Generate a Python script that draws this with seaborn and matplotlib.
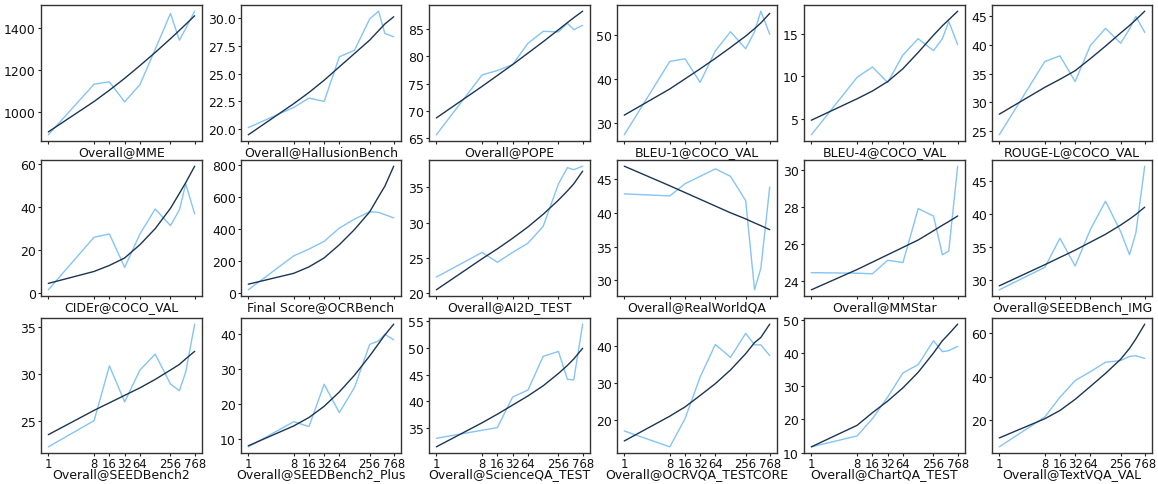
import matplotlib
matplotlib.use("Agg")
import matplotlib.pyplot as plt
import matplotlib.ticker as mticker
import seaborn as sns
import pandas as pd

# ---------------- data ----------------
steps = [1, 8, 16, 32, 64, 128, 256, 384, 512, 768]
xtick_values = [1, 8, 16, 32, 64, 256, 768]
xtick_labels = ["1", "8", "16", "32", "64", "256", "768"]

titles = [
    "Overall@MME", "Overall@HallusionBench", "Overall@POPE",
    "BLEU-1@COCO_VAL", "BLEU-4@COCO_VAL", "ROUGE-L@COCO_VAL",
    "CIDEr@COCO_VAL", "Final Score@OCRBench", "Overall@AI2D_TEST",
    "Overall@RealWorldQA", "Overall@MMStar", "Overall@SEEDBench_IMG",
    "Overall@SEEDBench2", "Overall@SEEDBench2_Plus", "Overall@ScienceQA_TEST",
    "Overall@OCRVQA_TESTCORE", "Overall@ChartQA_TEST", "Overall@TextVQA_VAL",
]

mme_obs = [890, 1133, 1144, 1048, 1131, 1300, 1472, 1344, 1400, 1483]
mme_fit = [904, 1050, 1104, 1161, 1222, 1285, 1351, 1391, 1420, 1461]
hallu_obs = [20.15, 21.96, 22.8, 22.5, 26.5, 27.1, 29.9, 30.6, 28.6, 28.3]
hallu_fit = [19.5, 22.3, 23.3, 24.4, 25.6, 26.8, 28.0, 28.85, 29.45, 30.1]
pope_obs = [65.6, 76.6, 77.4, 78.5, 82.4, 84.6, 84.5, 86.1, 84.9, 85.7]
pope_fit = [68.7, 74.5, 76.5, 78.5, 80.6, 82.7, 84.9, 86.2, 87.1, 88.3]
bleu1_obs = [27.2, 44.0, 44.6, 39.2, 46.4, 50.8, 46.9, 50.8, 55.5, 50.2]
bleu1_fit = [31.7, 37.7, 40.0, 42.3, 44.7, 47.2, 49.8, 51.5, 52.8, 55.0]
bleu4_obs = [3.2, 9.9, 11.1, 9.3, 12.5, 14.4, 13.0, 14.4, 16.4, 13.7]
bleu4_fit = [4.9, 7.4, 8.3, 9.4, 10.9, 12.8, 14.8, 15.9, 16.6, 17.6]
rouge_obs = [24.3, 37.1, 38.1, 33.6, 39.9, 42.9, 40.3, 42.8, 45.0, 42.2]
rouge_fit = [27.9, 32.6, 34.0, 35.5, 37.6, 39.8, 42.1, 43.4, 44.4, 45.9]
cider_obs = [1.4, 26.0, 27.5, 11.9, 27.5, 39.2, 31.4, 38.8, 50.9, 36.9]
cider_fit = [4.4, 10.0, 12.8, 16.3, 22.5, 30.0, 39.5, 46.5, 51.5, 59.2]
ocrb_obs = [19, 231, 273, 321, 404, 460, 506, 502, 488, 467]
ocrb_fit = [54, 122, 162, 218, 300, 395, 505, 600, 665, 790]
ai2d_obs = [22.3, 25.8, 24.4, 25.8, 27.1, 29.5, 35.5, 37.8, 37.5, 38.0]
ai2d_fit = [20.5, 24.9, 26.3, 27.8, 29.4, 31.2, 33.2, 34.5, 35.5, 37.3]
rwqa_obs = [42.8, 42.5, 44.3, 45.4, 46.5, 45.4, 41.8, 28.6, 31.8, 43.8]
rwqa_fit = [46.9, 44.0, 43.0, 42.0, 41.0, 40.0, 39.1, 38.5, 38.1, 37.5]
mmstar_obs = [24.43, 24.4, 24.37, 25.1, 24.98, 27.9, 27.5, 25.4, 25.6, 30.2]
mmstar_fit = [23.5, 24.6, 25.0, 25.4, 25.8, 26.2, 26.7, 27.0, 27.2, 27.5]
seedimg_obs = [28.5, 31.9, 36.3, 32.1, 37.6, 41.9, 37.3, 33.8, 37.1, 47.2]
seedimg_fit = [29.1, 32.3, 33.4, 34.5, 35.7, 36.9, 38.3, 39.2, 39.9, 41.0]
seed2_obs = [22.2, 25.0, 30.85, 27.0, 30.4, 32.1, 28.9, 28.2, 30.2, 35.3]
seed2_fit = [23.5, 26.1, 26.9, 27.7, 28.5, 29.4, 30.4, 31.0, 31.6, 32.4]
seed2p_obs = [7.8, 15.0, 13.6, 25.7, 17.6, 24.8, 37.1, 38.1, 40.0, 38.4]
seed2p_fit = [8.1, 13.8, 16.2, 19.4, 23.5, 28.3, 33.8, 37.3, 39.8, 42.9]
sqa_obs = [33.1, 34.6, 35.1, 40.8, 42.1, 48.4, 49.3, 44.1, 44.0, 54.4]
sqa_fit = [31.5, 36.0, 37.6, 39.3, 41.0, 42.9, 45.2, 46.7, 47.9, 49.9]
ocrvqa_obs = [17.1, 12.8, 20.4, 31.7, 40.5, 37.0, 43.5, 40.4, 40.4, 37.5]
ocrvqa_fit = [14.4, 21.1, 23.6, 26.7, 29.9, 33.6, 38.0, 41.0, 42.4, 46.0]
chart_obs = [11.7, 15.0, 20.2, 26.7, 34.0, 36.5, 43.7, 40.4, 40.7, 42.0]
chart_fit = [11.7, 18.2, 22.0, 25.5, 29.5, 34.2, 40.0, 43.7, 45.7, 48.7]
textvqa_obs = [7.8, 21.5, 30.6, 38.2, 42.3, 46.6, 47.4, 49.3, 49.6, 48.4]
textvqa_fit = [11.9, 20.7, 24.5, 29.6, 35.5, 41.5, 48.0, 53.0, 57.3, 64.1]

observed = [mme_obs, hallu_obs, pope_obs, bleu1_obs, bleu4_obs, rouge_obs,
            cider_obs, ocrb_obs, ai2d_obs, rwqa_obs, mmstar_obs, seedimg_obs,
            seed2_obs, seed2p_obs, sqa_obs, ocrvqa_obs, chart_obs, textvqa_obs]
fitted = [mme_fit, hallu_fit, pope_fit, bleu1_fit, bleu4_fit, rouge_fit,
          cider_fit, ocrb_fit, ai2d_fit, rwqa_fit, mmstar_fit, seedimg_fit,
          seed2_fit, seed2p_fit, sqa_fit, ocrvqa_fit, chart_fit, textvqa_fit]

yticks = [
    [1000, 1200, 1400], [20.0, 22.5, 25.0, 27.5, 30.0], [65, 70, 75, 80, 85],
    [30, 40, 50], [5, 10, 15], [25, 30, 35, 40, 45],
    [0, 20, 40, 60], [0, 200, 400, 600, 800], [20, 25, 30, 35],
    [30, 35, 40, 45], [24, 26, 28, 30], [30, 35, 40, 45],
    [25, 30, 35], [10, 20, 30, 40], [35, 40, 45, 50, 55],
    [20, 30, 40], [10, 20, 30, 40, 50], [20, 40, 60],
]

# ---------------- style / layout ----------------
sns.set_style("white")
FS = 9.0
XFS = 8.4
plt.rcParams["font.family"] = ["DejaVu Sans"]
plt.rcParams["font.size"] = FS

W, H = 1158, 485
fig = plt.figure(figsize=(W / 100, H / 100), dpi=100)

col_px = [(41, 202), (241, 401), (429, 590), (617, 777), (804, 965), (992, 1152)]
row_px = [(6, 142), (161, 297), (319, 454)]

OBS_COLOR = "#85C4F4"
FIT_COLOR = "#1B3553"

for i in range(18):
    r, c = divmod(i, 6)
    L, R = col_px[c]
    T, B = row_px[r]
    ax = fig.add_axes([L / W, 1 - B / H, (R - L) / W, (B - T) / H])
    ax.set_xscale("log", base=2)
    df = pd.DataFrame({"step": steps, "obs": observed[i], "fit": fitted[i]})
    sns.lineplot(data=df, x="step", y="obs", ax=ax, color=OBS_COLOR, linewidth=1.0)
    sns.lineplot(data=df, x="step", y="fit", ax=ax, color=FIT_COLOR, linewidth=1.0)
    ax.xaxis.set_minor_locator(mticker.NullLocator())
    ax.set_xticks(xtick_values)
    ax.set_xticklabels(xtick_labels)
    ax.set_yticks(yticks[i])
    ax.yaxis.set_major_formatter(mticker.ScalarFormatter())
    ax.tick_params(axis="both", which="major", direction="out", length=2.2,
                   width=0.8, labelsize=FS, colors="#222222",
                   labelcolor="#111111", bottom=True, left=True)
    ax.tick_params(axis="x", pad=0.4, labelsize=XFS, labelbottom=(r == 2))
    ax.tick_params(axis="y", pad=1.5)
    ax.set_xlabel(titles[i], fontsize=FS, color="#111111",
                  labelpad=(-1.6 if r == 2 else 0.6))
    ax.set_ylabel("")
    for s in ax.spines.values():
        s.set_visible(True)
        s.set_color("#333333")
        s.set_linewidth(1.0)

fig.savefig("out.png", dpi=100)
